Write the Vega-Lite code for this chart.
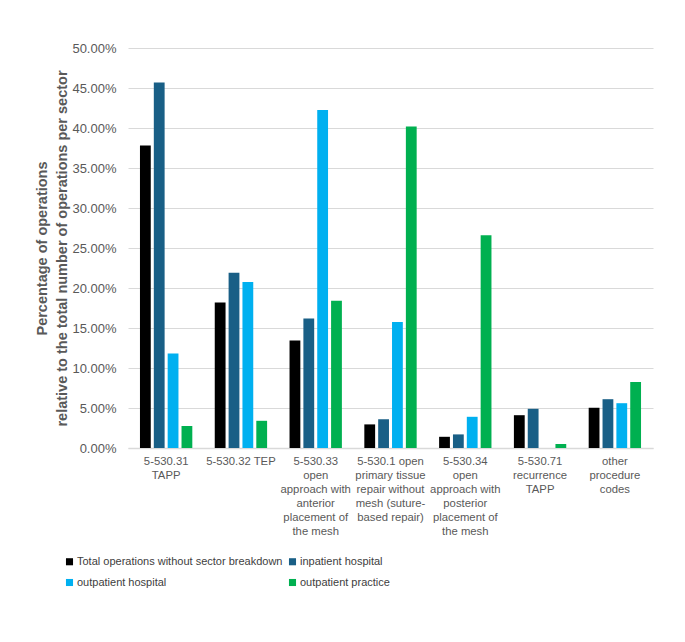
{
  "$schema": "https://vega.github.io/schema/vega-lite/v6.json",
  "width": 525,
  "height": 400,
  "padding": {"left": 34, "top": 42, "right": 30, "bottom": 10},
  "background": "white",
  "data": {
    "values": [
      {"code": "5-530.31|TAPP", "sector": "Total operations without sector breakdown", "share": 0.378},
      {"code": "5-530.31|TAPP", "sector": "inpatient hospital", "share": 0.457},
      {"code": "5-530.31|TAPP", "sector": "outpatient hospital", "share": 0.118},
      {"code": "5-530.31|TAPP", "sector": "outpatient practice", "share": 0.0275},
      {"code": "5-530.32 TEP", "sector": "Total operations without sector breakdown", "share": 0.182},
      {"code": "5-530.32 TEP", "sector": "inpatient hospital", "share": 0.219},
      {"code": "5-530.32 TEP", "sector": "outpatient hospital", "share": 0.2075},
      {"code": "5-530.32 TEP", "sector": "outpatient practice", "share": 0.034},
      {"code": "5-530.33|open|approach with|anterior|placement of|the mesh", "sector": "Total operations without sector breakdown", "share": 0.1345},
      {"code": "5-530.33|open|approach with|anterior|placement of|the mesh", "sector": "inpatient hospital", "share": 0.162},
      {"code": "5-530.33|open|approach with|anterior|placement of|the mesh", "sector": "outpatient hospital", "share": 0.4225},
      {"code": "5-530.33|open|approach with|anterior|placement of|the mesh", "sector": "outpatient practice", "share": 0.184},
      {"code": "5-530.1 open|primary tissue|repair without|mesh (suture-|based repair)", "sector": "Total operations without sector breakdown", "share": 0.0295},
      {"code": "5-530.1 open|primary tissue|repair without|mesh (suture-|based repair)", "sector": "inpatient hospital", "share": 0.036},
      {"code": "5-530.1 open|primary tissue|repair without|mesh (suture-|based repair)", "sector": "outpatient hospital", "share": 0.1575},
      {"code": "5-530.1 open|primary tissue|repair without|mesh (suture-|based repair)", "sector": "outpatient practice", "share": 0.402},
      {"code": "5-530.34|open|approach with|posterior|placement of|the mesh", "sector": "Total operations without sector breakdown", "share": 0.014},
      {"code": "5-530.34|open|approach with|posterior|placement of|the mesh", "sector": "inpatient hospital", "share": 0.017},
      {"code": "5-530.34|open|approach with|posterior|placement of|the mesh", "sector": "outpatient hospital", "share": 0.039},
      {"code": "5-530.34|open|approach with|posterior|placement of|the mesh", "sector": "outpatient practice", "share": 0.266},
      {"code": "5-530.71|recurrence|TAPP", "sector": "Total operations without sector breakdown", "share": 0.041},
      {"code": "5-530.71|recurrence|TAPP", "sector": "inpatient hospital", "share": 0.049},
      {"code": "5-530.71|recurrence|TAPP", "sector": "outpatient hospital", "share": 0},
      {"code": "5-530.71|recurrence|TAPP", "sector": "outpatient practice", "share": 0.005},
      {"code": "other|procedure|codes", "sector": "Total operations without sector breakdown", "share": 0.0503},
      {"code": "other|procedure|codes", "sector": "inpatient hospital", "share": 0.061},
      {"code": "other|procedure|codes", "sector": "outpatient hospital", "share": 0.056},
      {"code": "other|procedure|codes", "sector": "outpatient practice", "share": 0.0825}
    ]
  },
  "mark": {"type": "bar"},
  "encoding": {
    "x": {
      "field": "code",
      "type": "nominal",
      "sort": null,
      "scale": {"paddingInner": 0.3, "paddingOuter": 0.16},
      "axis": {
        "title": null,
        "labelAngle": 0,
        "labelExpr": "split(datum.value, '|')",
        "labelFont": "Liberation Sans",
        "labelFontSize": 11.3,
        "labelColor": "#595959",
        "labelLineHeight": 14,
        "labelPadding": 7,
        "labelBaseline": "top",
        "labelLimit": 0,
        "ticks": false,
        "domainColor": "#d9d9d9",
        "domainWidth": 1.5
      }
    },
    "xOffset": {
      "field": "sector",
      "type": "nominal",
      "sort": null,
      "scale": {"paddingInner": 0.22, "paddingOuter": 0}
    },
    "y": {
      "field": "share",
      "type": "quantitative",
      "scale": {"domain": [0, 0.5], "nice": false},
      "axis": {
        "title": ["Percentage of operations", "relative to the total number of operations per sector"],
        "titleFont": "Liberation Sans",
        "titleFontSize": 14.5,
        "titleFontWeight": "bold",
        "titleColor": "#595959",
        "titlePadding": 2,
        "titleLineHeight": 20,
        "format": ".2%",
        "values": [0, 0.05, 0.1, 0.15, 0.2, 0.25, 0.3, 0.35, 0.4, 0.45, 0.5],
        "labelFont": "Liberation Sans",
        "labelFontSize": 13,
        "labelColor": "#595959",
        "labelPadding": 12,
        "ticks": false,
        "domain": false,
        "gridColor": "#d9d9d9",
        "gridWidth": 1.2
      }
    },
    "color": {
      "field": "sector",
      "type": "nominal",
      "sort": null,
      "scale": {
        "domain": ["Total operations without sector breakdown", "inpatient hospital", "outpatient hospital", "outpatient practice"],
        "range": ["#000000", "#195F86", "#00B0F0", "#00B050"]
      },
      "legend": {
        "title": null,
        "orient": "none",
        "legendX": -64,
        "legendY": 508,
        "direction": "horizontal",
        "columns": 2,
        "columnPadding": 4,
        "rowPadding": 9,
        "symbolType": "square",
        "symbolSize": 50,
        "symbolStrokeWidth": 0,
        "labelFont": "Liberation Sans",
        "labelFontSize": 11,
        "labelColor": "#404040",
        "labelOffset": 2,
        "labelLimit": 0
      }
    }
  },
  "config": {
    "view": {"stroke": null}
  }
}
